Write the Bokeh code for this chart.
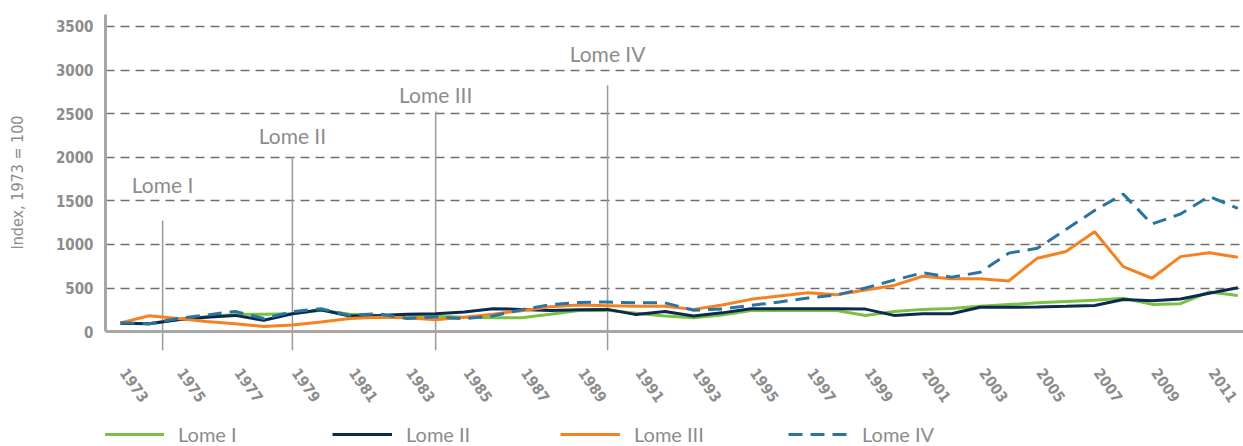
from bokeh.plotting import figure
from bokeh.layouts import column
from bokeh.models import Span, Legend, LegendItem, Range1d, FixedTicker
from bokeh.core.properties import value
from bokeh.embed import file_html
from bokeh.resources import INLINE

years = list(range(1973, 2013))
lome_i = [100, 90, 140, 170, 195, 200, 205, 245, 200, 185,
          180, 175, 165, 160, 160, 200, 243, 245, 210, 180,
          160, 190, 243, 243, 243, 243, 185, 230, 255, 265,
          290, 310, 330, 345, 360, 384, 312, 320, 455, 415]
lome_ii = [95, 90, 135, 165, 186, 130, 205, 250, 180, 185,
           200, 205, 225, 263, 255, 243, 250, 255, 195, 230,
           180, 215, 263, 263, 263, 263, 258, 186, 205, 205,
           280, 280, 282, 290, 300, 369, 355, 375, 440, 502]
lome_iii = [100, 182, 150, 115, 90, 60, 75, 110, 150, 165,
            160, 135, 165, 200, 240, 285, 305, 298, 290, 290,
            255, 305, 370, 408, 446, 422, 478, 530, 635, 605,
            605, 580, 842, 918, 1146, 745, 612, 860, 905, 853]
lome_iv = [103, 90, 150, 190, 232, 150, 230, 263, 186, 205,
           150, 170, 148, 180, 250, 310, 335, 340, 330, 330,
           245, 260, 300, 340, 385, 420, 500, 590, 674, 625,
           680, 900, 955, 1170, 1390, 1577, 1234, 1349, 1550, 1414]

series_names = ["Lome I", "Lome II", "Lome III", "Lome IV"]
series_colors = ["#7ac143", "#0c2a4f", "#f58220", "#2a74a3"]
series_dash = ["solid", "solid", "solid", "14 8"]
agreement_year = [1974.47, 1979.0, 1984.0, 1990.0]
agreement_top = [1275, 2000, 2525, 2825]
agreement_label_y = [1690, 2245, 2725, 3190]

x_tick_years = list(range(1973, 2012, 2))
y_ticks = [0, 500, 1000, 1500, 2000, 2500, 3000, 3500]

GREY = "#8c8c8c"
NARROW = "'Liberation Sans Narrow', 'DejaVu Sans Condensed', 'Roboto', sans-serif"
SANS = "Lato, 'Open Sans', sans-serif"
LABEL_SHIFT = 0.12  # rotated year labels start slightly right of their year

p = figure(width=1243, height=410,
           x_range=Range1d(1972.476, 2012.197),
           y_range=Range1d(-216.6, 3636.8),
           output_backend="svg", toolbar_location=None,
           min_border_left=105, min_border_right=0,
           min_border_top=14, min_border_bottom=58)
p.outline_line_color = None
p.background_fill_color = "white"
p.border_fill_color = "white"

p.xgrid.visible = False
p.ygrid.grid_line_color = "#6f6f6f"
p.ygrid.grid_line_dash = "9 6"
p.ygrid.grid_line_width = 1.3

p.yaxis.ticker = FixedTicker(ticks=y_ticks)
p.yaxis.bounds = (0, 3636.8)
p.yaxis.axis_line_color = "#a6a6a6"
p.yaxis.axis_line_width = 3
p.yaxis.major_tick_line_color = None
p.yaxis.minor_tick_line_color = None
p.yaxis.major_label_standoff = 6
p.yaxis.major_label_text_font = NARROW
p.yaxis.major_label_text_font_size = "15px"
p.yaxis.major_label_text_font_style = "bold"
p.yaxis.major_label_text_color = GREY
p.yaxis.axis_label = "Index, 1973 = 100"
p.yaxis.axis_label_text_font = NARROW
p.yaxis.axis_label_text_font_size = "16px"
p.yaxis.axis_label_text_font_style = "normal"
p.yaxis.axis_label_text_color = GREY
p.yaxis.axis_label_standoff = 26

x_tick_pos = [y + LABEL_SHIFT for y in x_tick_years]
p.xaxis.ticker = FixedTicker(ticks=x_tick_pos)
p.xaxis.major_label_overrides = {t: str(y) for t, y in zip(x_tick_pos, x_tick_years)}
p.xaxis.axis_line_color = None
p.xaxis.major_tick_line_color = None
p.xaxis.minor_tick_line_color = None
p.xaxis.major_label_orientation = -0.96
p.xaxis.major_label_standoff = 13
p.xaxis.major_label_text_font = NARROW
p.xaxis.major_label_text_font_size = "15px"
p.xaxis.major_label_text_font_style = "bold"
p.xaxis.major_label_text_color = GREY

# agreement markers
p.segment(x0=agreement_year, y0=[p.y_range.start] * 4,
          x1=agreement_year, y1=agreement_top,
          line_color="#9a9a9a", line_width=1.5)
p.text(x=agreement_year, y=agreement_label_y, text=series_names,
       text_align="center", text_baseline="middle",
       text_font=value(SANS), text_font_size="21px", text_color=GREY)

p.add_layout(Span(location=0, dimension="width", line_color="#a6a6a6", line_width=3))

all_series = [lome_i, lome_ii, lome_iii, lome_iv]
for vals, col, dash in zip(all_series, series_colors, series_dash):
    p.line(years, vals, line_color=col, line_width=3, line_dash=dash)

# legend strip below the chart (its own lines fall outside its ranges)
lg = figure(width=1243, height=36, output_backend="svg", toolbar_location=None,
            x_axis_type=None, y_axis_type=None,
            x_range=Range1d(0, 1), y_range=Range1d(0, 1),
            min_border_left=0, min_border_right=0, min_border_top=0, min_border_bottom=0)
lg.outline_line_color = None
lg.xgrid.visible = False
lg.ygrid.visible = False
items = []
for name, vals, col, dash in zip(series_names, all_series, series_colors, series_dash):
    r = lg.line(years, vals, line_color=col, line_width=3, line_dash=dash)
    items.append(LegendItem(label=name, renderers=[r]))
legend = Legend(items=items, orientation="horizontal", location=(-1, 0),
                glyph_width=60, glyph_height=18, label_width=150, label_height=18,
                label_standoff=14, spacing=4, padding=0, margin=0,
                border_line_color=None, background_fill_alpha=0,
                label_text_font=SANS, label_text_font_size="20px",
                label_text_color=GREY, label_text_baseline="middle")
lg.add_layout(legend)

layout = column(p, lg, spacing=0)
open("out.html", "w").write(file_html(layout, INLINE))
